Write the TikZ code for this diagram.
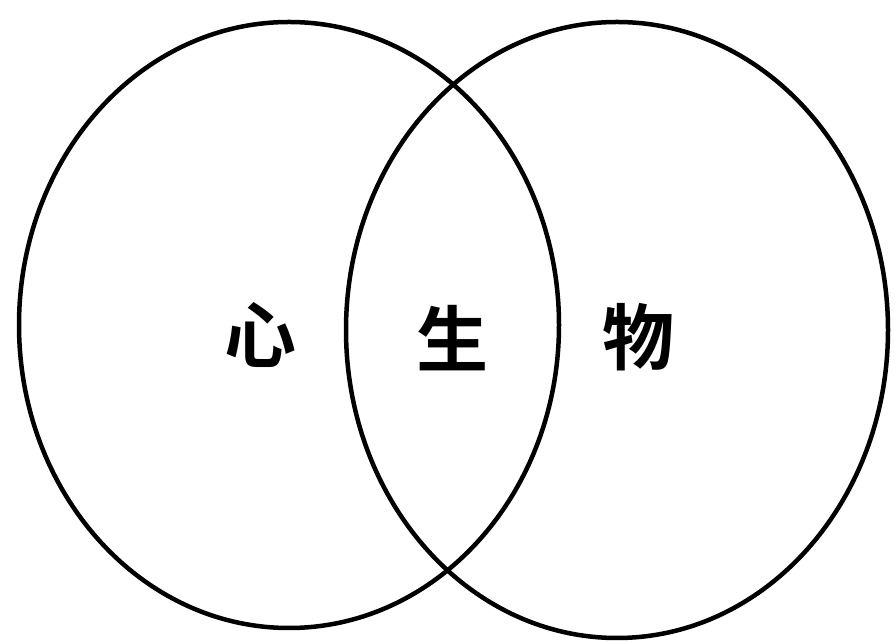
\documentclass[tikz,border=0pt]{standalone}
\usepackage{fontspec}
\newfontfamily\cjk{Noto Sans CJK SC Bold}
\begin{document}
\begin{tikzpicture}[x=1pt,y=1pt,
  ring/.style={draw=black,line width=4.5pt},
  word/.style={font=\cjk\fontsize{72}{72}\selectfont,inner sep=0pt}]
\useasboundingbox[fill=white] (0,0) rectangle (895,642);
\draw[ring] (289,317) ellipse [x radius=270, y radius=303];
\draw[ring] (617,312) ellipse [x radius=271, y radius=308];
\node[word] (xin) at (260,307) {心};
\node[word] (sheng) at (452,304) {生};
\node[word] (wu) at (638,305) {物};
\end{tikzpicture}
\end{document}
